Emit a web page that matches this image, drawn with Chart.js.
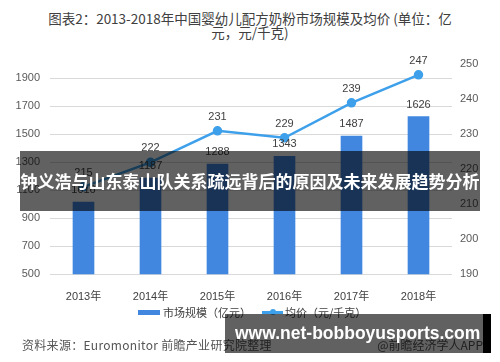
<!DOCTYPE html>
<html>
<head>
<meta charset="utf-8">
<script src="https://cdn.jsdelivr.net/npm/chart.js@4"></script>
<style>
  html, body { margin: 0; padding: 0; background: #fff; }
  body { width: 500px; height: 362px; position: relative; overflow: hidden; font-family: "Noto Sans CJK SC", "Liberation Sans", sans-serif; }
  #wrap { position: absolute; left: 0; top: 0; width: 500px; height: 362px; }
  .title { position: absolute; left: 0; top: 11px; width: 500px; text-align: center; font-size: 13.5px; line-height: 14px; color: #404040; }
  .legend { position: absolute; top: 304px; font-size: 11px; color: #404040; line-height: 16px; }
  .sw-bar { position: absolute; top: 6px; width: 22px; height: 5px; background: #4187df; }
  .sw-line { position: absolute; top: 7px; width: 21px; height: 2.5px; background: #3ea0ea; }
  .sw-dot { position: absolute; top: 5px; width: 6px; height: 6px; border-radius: 50%; background: #3ea0ea; }
  .source { position: absolute; left: 22px; top: 336px; font-size: 12px; color: #555; letter-spacing: 0.3px; }
  .app { position: absolute; right: 17px; top: 336px; font-size: 12px; color: #555; }
  .band { position: absolute; left: 20px; top: 151px; width: 460px; height: 60px; background: rgba(0,0,0,0.62); color: #fff; font-weight: bold; font-size: 17px; line-height: 60px; text-align: center; white-space: nowrap; }
  .site { position: absolute; left: 225px; top: 314px; width: 258px; height: 39px; background: rgba(0,0,0,0.62); }
  .site-end { position: absolute; left: 483px; top: 314px; width: 8px; height: 39px; background: #000; }
  .site-text { position: absolute; left: 235px; top: 314px; height: 39px; line-height: 39px; color: #fff; font-weight: bold; font-size: 17.5px; font-family: "Liberation Sans", sans-serif; white-space: nowrap; }
</style>
</head>
<body>
<div class="title">图表2：2013-2018年中国婴幼儿配方奶粉市场规模及均价 (单位：亿<br>元，元/千克)</div>
<div id="wrap"><canvas id="chart" width="500" height="362"></canvas></div>
<div class="legend" style="left:138px;"><span class="sw-bar" style="left:0"></span><span style="margin-left:25px">市场规模（亿元）</span></div>
<div class="legend" style="left:262px;"><span class="sw-line" style="left:0"></span><span class="sw-dot" style="left:8px"></span><span style="margin-left:23px">均价（元/千克）</span></div>
<div class="source">资料来源：Euromonitor 前瞻产业研究院整理</div>
<div class="app">@前瞻经济学人APP</div>
<div class="band">钟义浩与山东泰山队关系疏远背后的原因及未来发展趋势分析</div>
<div class="site"></div>
<div class="site-end"></div>
<div class="site-text">www.net-bobboyusports.com</div>
<script>
const years = ["2013年", "2014年", "2015年", "2016年", "2017年", "2018年"];
const marketSize = [1016, 1187, 1288, 1343, 1487, 1626];
const avgPrice = [215, 222, 231, 229, 239, 247];
const sizeTicks = [500, 700, 900, 1100, 1300, 1500, 1700, 1900];
const priceTicks = [190, 200, 210, 220, 230, 240, 250];

const barColor = "#4187df";
const lineColor = "#3ea0ea";

// value labels above bars and points
const valueLabels = {
  id: "valueLabels",
  afterDatasetsDraw(chart) {
    const ctx = chart.ctx;
    ctx.save();
    ctx.font = "11px 'Liberation Sans', sans-serif";
    ctx.fillStyle = "#404040";
    ctx.textAlign = "center";
    ctx.textBaseline = "middle";
    chart.data.datasets.forEach((ds, i) => {
      const meta = chart.getDatasetMeta(i);
      meta.data.forEach((el, j) => {
        const off = ds.type === "line" ? 14 : 12;
        ctx.fillText(ds.data[j], el.x, el.y - off);
      });
    });
    ctx.restore();
  }
};

new Chart(document.getElementById("chart"), {
  data: {
    labels: years,
    datasets: [
      {
        type: "line",
        label: "均价（元/千克）",
        data: avgPrice,
        yAxisID: "yRight",
        borderColor: lineColor,
        backgroundColor: lineColor,
        borderWidth: 2.5,
        pointRadius: 3.5,
        pointBackgroundColor: lineColor,
        tension: 0,
        order: 0
      },
      {
        type: "bar",
        label: "市场规模（亿元）",
        data: marketSize,
        yAxisID: "y",
        backgroundColor: barColor,
        barThickness: 21,
        order: 1
      }
    ]
  },
  options: {
    responsive: false,
    animation: false,
    layout: { padding: { top: 64.3, bottom: 57.7, left: 0, right: 0 } },
    plugins: { legend: { display: false }, tooltip: { enabled: false } },
    scales: {
      x: {
        grid: { display: false },
        border: { display: false },
        ticks: { color: "#404040", font: { size: 11, family: "'Liberation Sans', 'Noto Sans CJK SC', sans-serif" }, padding: 8 },
        afterFit(scale) { scale.height = 30; }
      },
      y: {
        position: "left",
        min: 500,
        max: 2000,
        grid: { color: "#d9d9d9", drawTicks: false },
        border: { display: false },
        afterBuildTicks(scale) { scale.ticks = sizeTicks.map(v => ({ value: v })); },
        ticks: { color: "#595959", padding: 10, font: { size: 11, family: "'Liberation Sans', sans-serif" }, callback: v => String(v) },
        afterFit(scale) { scale.width = 50; }
      },
      yRight: {
        position: "right",
        min: 190,
        max: 250,
        grid: { display: false, drawTicks: false },
        border: { display: false },
        afterBuildTicks(scale) { scale.ticks = priceTicks.map(v => ({ value: v })); },
        ticks: { color: "#595959", padding: 8, font: { size: 11, family: "'Liberation Sans', sans-serif" }, callback: v => String(v) },
        afterFit(scale) { scale.width = 48; }
      }
    }
  },
  plugins: [valueLabels]
});
</script>
</body>
</html>
